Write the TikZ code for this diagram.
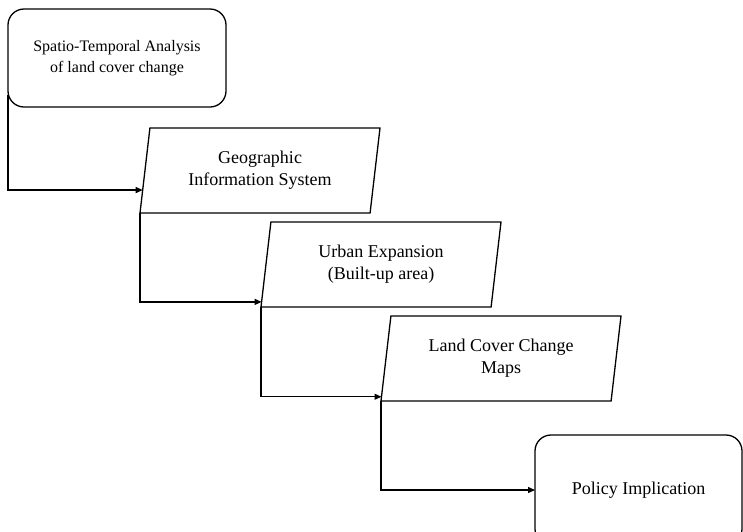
\documentclass[tikz,border=0pt]{standalone}
\usepackage{fontspec}
\setmainfont{Liberation Serif}
\usetikzlibrary{shapes.geometric,arrows.meta,calc}
\begin{document}
\begin{tikzpicture}[x=1pt,y=-1pt,
  every node/.style={font=\fontsize{18}{22}\selectfont, align=center},
  rbox/.style={draw, line width=1.3pt, rounded corners=16pt, inner sep=0pt, outer sep=0pt},
  para/.style={draw, line width=1.3pt, trapezium, trapezium left angle=75.5, trapezium right angle=104.5,
    trapezium stretches body, minimum width=240pt, minimum height=85pt, inner sep=0pt, outer sep=0pt},
  conn/.style={line width=1.3pt, -{Triangle[length=7pt,width=6pt]}}]
\useasboundingbox (0,0) rectangle (743,531);
\clip (0,0) rectangle (743,531);
\node[rbox, minimum width=218pt, minimum height=98pt, font=\fontsize{16}{21}\selectfont] (b1) at (117,58) {Spatio-Temporal Analysis\\of land cover change};
\node[para] (p1) at (260,170.5) {Geographic\\Information System};
\node[para] (p2) at (381,264.5) {Urban Expansion\\(Built-up area)};
\node[para] (p3) at (501,358.5) {Land Cover Change\\Maps};
\node[rbox, minimum width=207pt, minimum height=110pt] (b5) at (638.5,490) {Policy Implication};
\draw[conn] ([yshift=-37pt]b1.west) |- ($(p1.bottom left corner)!0.27!(p1.top left corner)$);
\draw[conn] (p1.bottom left corner) |- ($(p2.bottom left corner)!0.06!(p2.top left corner)$);
\draw[conn] (p2.bottom left corner) |- ($(p3.bottom left corner)!0.05!(p3.top left corner)$);
\draw[conn] (p3.bottom left corner) |- (b5.west);
\end{tikzpicture}
\end{document}
